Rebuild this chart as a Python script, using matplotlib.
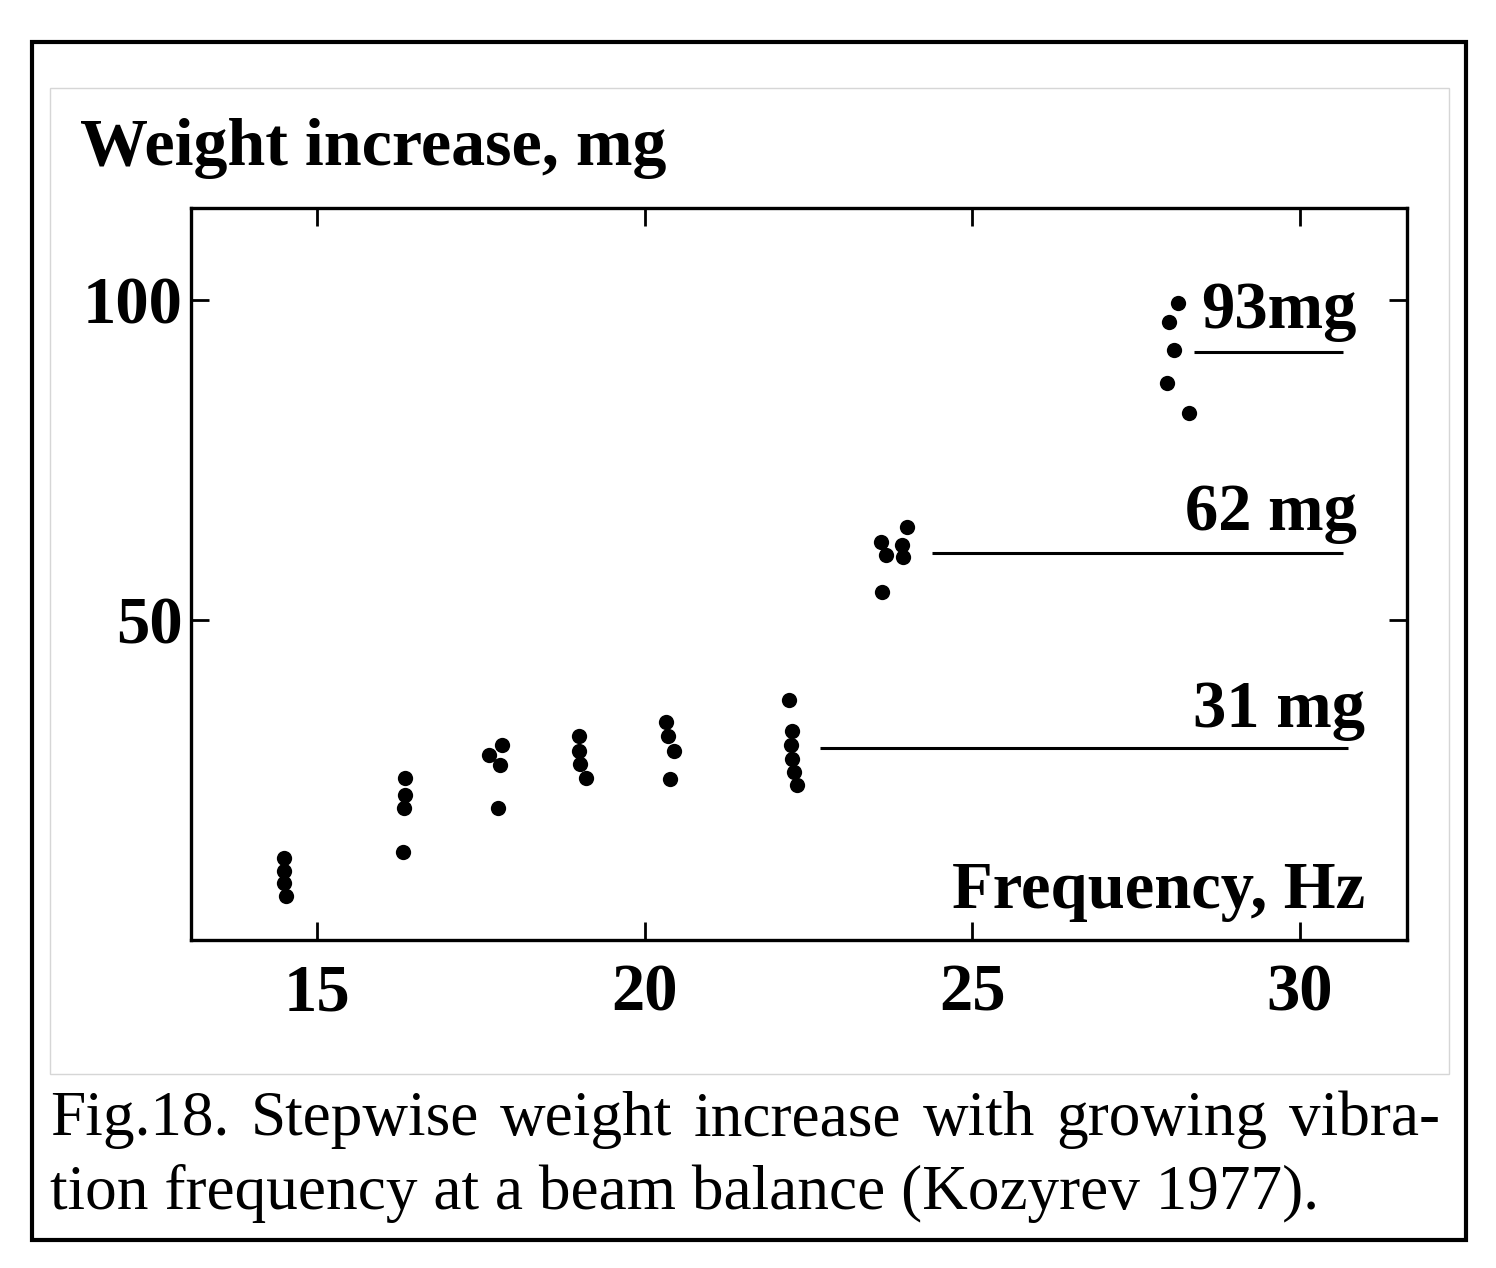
import matplotlib.pyplot as plt
from matplotlib.patches import Rectangle

freq_a = [14.50, 14.49, 14.50, 14.52]
weight_a = [12.8, 10.8, 8.9, 6.9]
freq_b = [16.34, 16.34, 16.32, 16.31]
weight_b = [25.3, 22.7, 20.6, 13.7]
freq_c = [17.63, 17.83, 17.79, 17.76]
weight_c = [28.9, 30.4, 27.3, 20.7]
freq_d = [19.00, 19.00, 19.01, 19.10]
weight_d = [31.9, 29.6, 27.5, 25.3]
freq_e = [20.33, 20.36, 20.45, 20.38]
weight_e = [34.0, 31.8, 29.6, 25.2]
freq_f = [22.20, 22.25, 22.24, 22.25, 22.28, 22.32]
weight_f = [37.5, 32.6, 30.5, 28.3, 26.3, 24.2]
freq_g = [24.00, 23.60, 23.92, 23.68, 23.95, 23.62]
weight_g = [64.6, 62.2, 61.7, 60.2, 59.9, 54.3]
freq_h = [28.14, 28.00, 28.08, 27.97, 28.31]
weight_h = [99.6, 96.6, 92.2, 87.1, 82.4]

# step levels drawn as horizontal lines
step_labels = ["31 mg", "62 mg", "93mg"]
step_level = [30.0, 60.5, 91.9]
step_start = [22.68, 24.39, 28.39]
step_end = [30.73, 30.66, 30.66]

xticks = [15, 20, 25, 30]
yticks = [50, 100]

caption_1 = "Fig.18. Stepwise weight increase with growing vibra-"
caption_2 = "tion frequency at a beam balance (Kozyrev 1977)."

W, H = 1496, 1268
serif = ["Liberation Serif", "DejaVu Serif"]
plt.rcParams['font.family'] = serif

fig = plt.figure(figsize=(W / 100, H / 100), dpi=100)
ax = fig.add_axes([191 / W, 1 - 940 / H, (1407 - 191) / W, (940 - 208) / H])

groups = [(freq_a, weight_a), (freq_b, weight_b), (freq_c, weight_c), (freq_d, weight_d),
          (freq_e, weight_e), (freq_f, weight_f), (freq_g, weight_g), (freq_h, weight_h)]
for fx, wy in groups:
    ax.plot(fx, wy, 'o', color='black', markersize=11, markeredgewidth=0)

for lvl, x0, x1 in zip(step_level, step_start, step_end):
    ax.plot([x0, x1], [lvl, lvl], color='black', linewidth=2.2, solid_capstyle='butt')

bold = dict(fontsize=48, fontweight='bold', color='black')
ax.text(30.99, 33.3, step_labels[0], ha='right', va='baseline', **bold)
ax.text(30.87, 64.1, step_labels[1], ha='right', va='baseline', **bold)
ax.text(30.87, 95.6, step_labels[2], ha='right', va='baseline', **bold)
ax.text(30.99, 5.0, "Frequency, Hz", ha='right', va='baseline', **bold)

ax.set_xlim(13.077, 31.634)
ax.set_ylim(0, 114.375)
ax.set_xticks(xticks)
ax.set_yticks(yticks)
ax.set_xticklabels([str(t) for t in xticks], fontsize=48, fontweight='bold')
ax.set_yticklabels([str(t) for t in yticks], fontsize=48, fontweight='bold')
ax.tick_params(direction='in', top=True, right=True, length=13, width=2)
ax.tick_params(axis='x', pad=17)
ax.tick_params(axis='y', pad=6)
for s in ax.spines.values():
    s.set_linewidth(2.4)

fig.text(80 / W, 1 - 165 / H, "Weight increase, mg", ha='left', va='baseline',
         fontsize=49, fontweight='bold', color='black')

# frames: thin grey around the plot, heavy black around the whole figure
fig.patches.append(Rectangle((50 / W, 1 - 1074 / H), (1449 - 50) / W, (1074 - 88) / H,
                             transform=fig.transFigure, fill=False, edgecolor='#d6d6d6', linewidth=1))
fig.patches.append(Rectangle((32 / W, 1 - 1240 / H), (1466 - 32) / W, (1240 - 42) / H,
                             transform=fig.transFigure, fill=False, edgecolor='black', linewidth=3))

# justified first caption line
renderer = fig.canvas.get_renderer()
words = caption_1.split()
texts = [fig.text(0, 1 - 1135 / H, w, fontsize=45.5, va='baseline') for w in words]
widths = [t.get_window_extent(renderer).width for t in texts]
gap = ((1440 - 50) - sum(widths)) / (len(words) - 1)
xpos = 50
for t, w in zip(texts, widths):
    t.set_x(xpos / W)
    xpos += w + gap
fig.text(50 / W, 1 - 1209 / H, caption_2, fontsize=45.5, va='baseline')

fig.savefig("out.png", dpi=100)
